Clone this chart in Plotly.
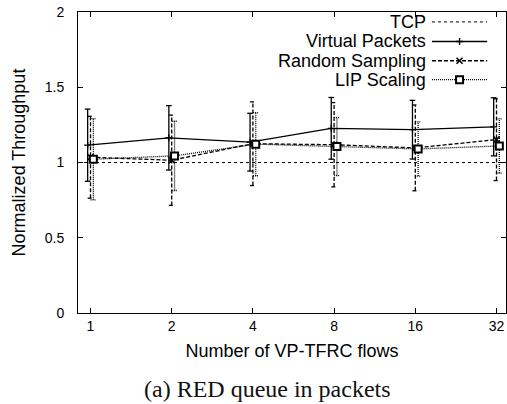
import plotly.graph_objects as go

# ---- data ----
flows = ["1", "2", "4", "8", "16", "32"]
tcp_level = 1.0
vp_mean = [1.115, 1.164, 1.135, 1.227, 1.218, 1.237]
vp_err = [0.240, 0.214, 0.192, 0.205, 0.195, 0.193]
rs_mean = [1.035, 1.015, 1.125, 1.118, 1.097, 1.152]
rs_err = [0.272, 0.300, 0.278, 0.280, 0.285, 0.272]
lip_mean = [1.022, 1.044, 1.122, 1.106, 1.090, 1.110]
lip_err = [0.270, 0.230, 0.210, 0.193, 0.180, 0.180]
series_names = ["TCP", "Virtual Packets", "Random Sampling", "LIP Scaling"]

idx = list(range(len(flows)))
FONT = "Liberation Sans, Arial, Helvetica, sans-serif"
CAP = 0.035

fig = go.Figure()


def add_series(mean, err, offset, dash, symbol, msize, mline, mcolor):
    xs = [i + offset for i in idx]
    # error bars as segments (so they can be dashed)
    ex, ey = [], []
    for x, m, e in zip(xs, mean, err):
        ex += [x, x, None, x - CAP, x + CAP, None, x - CAP, x + CAP, None]
        ey += [m - e, m + e, None, m + e, m + e, None, m - e, m - e, None]
    fig.add_trace(go.Scatter(x=ex, y=ey, mode="lines", showlegend=False,
                             hoverinfo="skip",
                             line=dict(color="black", width=1.3, dash=dash)))
    fig.add_trace(go.Scatter(x=xs, y=mean, mode="lines+markers", showlegend=False,
                             line=dict(color="black", width=1.3, dash=dash),
                             marker=dict(symbol=symbol, size=msize, color=mcolor,
                                         line=dict(color="black", width=mline))))


fig.add_hline(y=tcp_level, line=dict(color="black", width=1, dash="3px,3px"))
add_series(vp_mean, vp_err, -0.035, "solid", "cross-thin-open", 5, 1.3, "black")
add_series(rs_mean, rs_err, 0.0, "4px,2px", "x-thin-open", 6, 1.6, "black")
add_series(lip_mean, lip_err, 0.035, "1px,1px", "square", 7, 2, "white")

# ---- gnuplot style legend (text right, sample to its right) ----
rows = [0.967, 0.902, 0.838, 0.775]
styles = [("3px,3px", None, 0, 0, "black"),
          ("solid", "cross-thin-open", 5, 1.3, "black"),
          ("4px,2px", "x-thin-open", 6, 1.6, "black"),
          ("1px,1px", "square", 7, 2, "white")]
for name, yy, (dash, sym, ms, ml, mc) in zip(series_names, rows, styles):
    fig.add_annotation(text=name, xref="paper", yref="paper", x=0.8178, y=yy,
                       xanchor="right", yanchor="middle", showarrow=False,
                       font=dict(family=FONT, size=18, color="black"))
    fig.add_trace(go.Scatter(x=[0.827, 0.956], y=[yy, yy], xaxis="x2", yaxis="y2",
                             mode="lines", showlegend=False, hoverinfo="skip",
                             line=dict(color="black", width=1.3 if dash != "3px,3px" else 1, dash=dash)))
    if sym:
        fig.add_trace(go.Scatter(x=[0.8915], y=[yy], xaxis="x2", yaxis="y2",
                                 mode="markers", showlegend=False, hoverinfo="skip",
                                 marker=dict(symbol=sym, size=ms, color=mc,
                                             line=dict(color="black", width=ml))))

fig.add_annotation(text="(a) RED queue in packets", xref="paper", yref="paper",
                   x=(267 - 78) / 428, y=-(403 - 313) / 301, xanchor="center", yanchor="bottom",
                   showarrow=False, borderpad=0,
                   font=dict(family="Liberation Serif, Times New Roman, serif", size=24,
                             color="#111"))

fig.update_layout(
    width=507, height=404,
    margin=dict(l=78, r=1, t=12, b=91),
    paper_bgcolor="white", plot_bgcolor="white",
    showlegend=False,
    font=dict(family=FONT, size=14, color="black"),
    xaxis=dict(range=[-0.154, 5.117], tickvals=idx, ticktext=flows,
               ticks="inside", ticklen=5, tickwidth=1, tickcolor="black",
               showline=True, linecolor="black", linewidth=1, mirror="ticks",
               showgrid=False, zeroline=False,
               tickfont=dict(family=FONT, size=14),
               title=dict(text="Number of VP-TFRC flows", standoff=11,
                          font=dict(family=FONT, size=18))),
    yaxis=dict(range=[0, 2], tickvals=[0, 0.5, 1, 1.5, 2],
               ticktext=["0", "0.5", "1", "1.5", "2"],
               ticks="inside", ticklen=5, tickwidth=1, tickcolor="black",
               showline=True, linecolor="black", linewidth=1, mirror="ticks",
               showgrid=False, zeroline=False, ticklabelstandoff=10,
               tickfont=dict(family=FONT, size=14),
               title=dict(text="Normalized Throughput", standoff=14,
                          font=dict(family=FONT, size=18))),
    xaxis2=dict(domain=[0, 1], range=[0, 1], anchor="y2", overlaying="x",
                visible=False, fixedrange=True),
    yaxis2=dict(domain=[0, 1], range=[0, 1], anchor="x2", overlaying="y",
                visible=False, fixedrange=True),
)

fig.write_html("out.html", config={"displayModeBar": False},
               post_script="document.body.style.margin='0';document.body.style.overflow='hidden';")
